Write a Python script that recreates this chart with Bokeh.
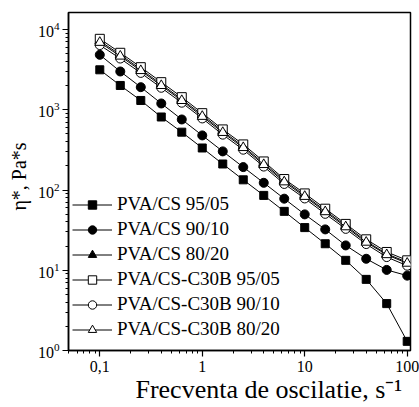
from bokeh.plotting import figure
from bokeh.models import (FixedTicker, CustomJSTickFormatter, LogTickFormatter,
                          Legend, LegendItem)
from bokeh.embed import file_html
from bokeh.resources import INLINE

# ---- data ----
freq = [0.1, 0.1585, 0.2512, 0.3981, 0.631, 1, 1.585, 2.512, 3.981, 6.31,
        10, 15.85, 25.12, 39.81, 63.1, 100]

pva_cs_95_05 = [3148, 2009, 1306, 813, 526, 334, 211, 134, 85.7, 54.2,
                34.0, 21.4, 13.3, 7.7, 3.84, 1.30]
pva_cs_90_10 = [4840, 3000, 1912, 1198, 757, 479, 303, 193, 123, 78,
                49.7, 32.3, 20.4, 13.9, 10.1, 8.57]
pva_cs_80_20 = [7200, 4850, 3200, 2080, 1350, 860, 540, 350, 215, 131,
                86, 55.5, 36, 23, 16, 12.6]
c30b_95_05 = [7660, 5130, 3395, 2208, 1436, 907, 569, 370, 227, 137,
              90.7, 58.5, 37.8, 24.3, 16.9, 13.3]
c30b_90_10 = [6400, 4350, 2880, 1880, 1225, 780, 490, 318, 196, 119,
              78.5, 50.5, 32.8, 21.2, 14.6, 11.4]
c30b_80_20 = [6900, 4650, 3070, 2000, 1300, 825, 520, 337, 207, 126,
              83, 53.5, 34.7, 22.3, 15.6, 12.2]

series_labels = ["PVA/CS 95/05", "PVA/CS 90/10", "PVA/CS 80/20",
                 "PVA/CS-C30B 95/05", "PVA/CS-C30B 90/10", "PVA/CS-C30B 80/20"]

x_ticks = [0.1, 1, 10, 100]
x_tick_labels = ["0,1", "1", "10", "100"]
x_minor = [0.05, 0.06, 0.07, 0.08, 0.09,
           0.2, 0.3, 0.4, 0.5, 0.6, 0.7, 0.8, 0.9,
           2, 3, 4, 5, 6, 7, 8, 9,
           20, 30, 40, 50, 60, 70, 80, 90]
y_ticks = [1, 10, 100, 1000, 10000]
y_minor = [2, 3, 4, 5, 6, 7, 8, 9,
           20, 30, 40, 50, 60, 70, 80, 90,
           200, 300, 400, 500, 600, 700, 800, 900,
           2000, 3000, 4000, 5000, 6000, 7000, 8000, 9000]

x_label_text = "Frecventa de oscilatie, s\u207b\u00b9"
y_label_text = "η*, Pa*s"

FONT = "Liberation Serif"
NBSP = "\u00a0"

p = figure(width=419, height=407, x_axis_type="log", y_axis_type="log",
           x_range=(0.0495, 107.7), y_range=(1, 16300),
           output_backend="svg", toolbar_location=None,
           min_border_left=68, min_border_right=9,
           min_border_top=12, min_border_bottom=57)

p.xgrid.visible = False
p.ygrid.visible = False
p.outline_line_color = "black"
p.outline_line_width = 1.5
p.background_fill_color = "white"
p.border_fill_color = "white"

p.xaxis.ticker = FixedTicker(ticks=x_ticks, minor_ticks=x_minor)
p.xaxis.formatter = CustomJSTickFormatter(
    args=dict(vals=x_ticks, labs=x_tick_labels),
    code="""
    for (let i = 0; i < vals.length; i++) {
        if (Math.abs(Math.log10(tick) - Math.log10(vals[i])) < 1e-6) return labs[i];
    }
    return '';
    """)
p.yaxis.ticker = FixedTicker(ticks=y_ticks, minor_ticks=y_minor)
p.yaxis.formatter = LogTickFormatter()

for ax in (p.xaxis, p.yaxis):
    ax.axis_line_width = 1.5
    ax.axis_line_color = "black"
    ax.major_tick_in = 0
    ax.major_tick_out = 6
    ax.minor_tick_in = 0
    ax.minor_tick_out = 3
    ax.major_tick_line_width = 1.2
    ax.minor_tick_line_width = 1
    ax.major_label_text_font = FONT
    ax.major_label_text_font_size = "16px"
    ax.major_label_text_color = "black"
    ax.axis_label_text_font = FONT
    ax.axis_label_text_font_style = "normal"
    ax.axis_label_text_color = "black"

p.xaxis.major_label_standoff = 4
p.yaxis.major_label_standoff = 3
p.yaxis.axis_label = NBSP * 2 + y_label_text
p.yaxis.axis_label_text_font_size = "20px"
p.yaxis.axis_label_standoff = 5
p.xaxis.axis_label = NBSP * 9 + x_label_text
p.xaxis.axis_label_text_font_size = "26px"
p.xaxis.axis_label_standoff = 0

data_sets = [pva_cs_95_05, pva_cs_90_10, pva_cs_80_20,
             c30b_95_05, c30b_90_10, c30b_80_20]
markers = ["square", "circle", "triangle", "square", "circle", "triangle"]
fills = ["black", "black", "black", "white", "white", "white"]
sizes = [8, 9, 10, 9, 9, 10]

items = []
for vals, mk, fc, sz, lab in zip(data_sets, markers, fills, sizes, series_labels):
    ln = p.line(freq, vals, line_color="black", line_width=1)
    sc = p.scatter(freq, vals, marker=mk, size=sz, fill_color=fc,
                   line_color="black", line_width=1)
    items.append(LegendItem(label=lab, renderers=[ln, sc]))

legend = Legend(items=items, location=(4, 10))
legend.padding = 0
legend.margin = 0
legend.spacing = 3
legend.glyph_height = 21
legend.label_height = 21
legend.glyph_width = 40
legend.label_standoff = 5
legend.border_line_color = None
legend.background_fill_alpha = 0
legend.label_text_font = FONT
legend.label_text_font_size = "19px"
legend.label_text_color = "black"
p.add_layout(legend)

open("out.html", "w").write(file_html(p, INLINE))
